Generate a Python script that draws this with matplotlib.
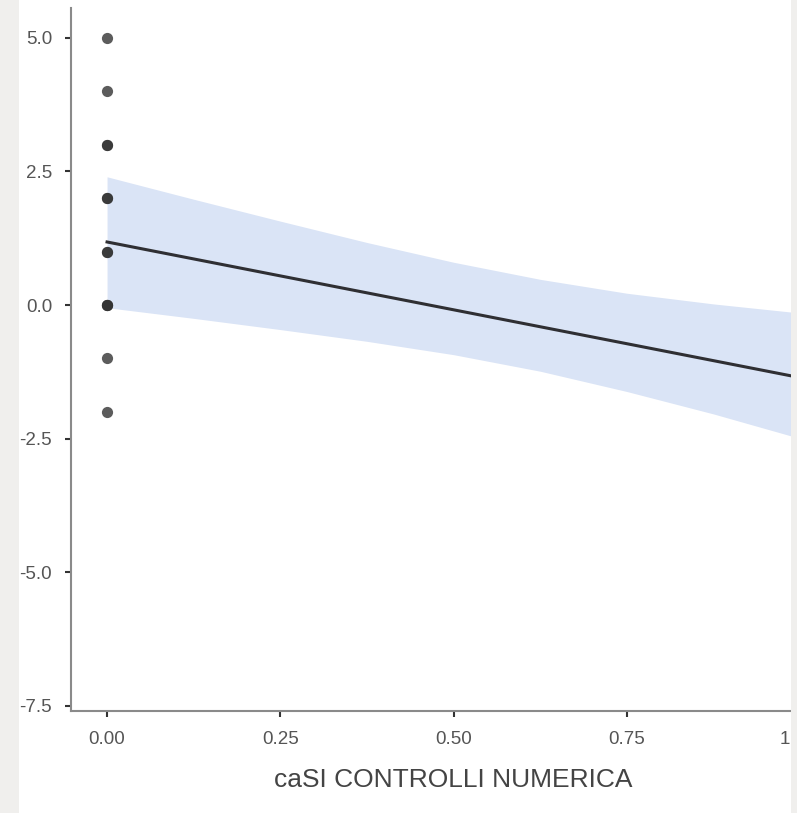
import matplotlib.pyplot as plt
import matplotlib.patches as mpatches
import matplotlib.transforms as mtransforms

plt.rcParams['font.family'] = ['Liberation Sans', 'DejaVu Sans']

# ===== data =====
point_x = [0, 0, 0, 0, 0, 0, 0, 0, 0, 0, 0, 0, 0]
point_y = [5, 4, 3, 3, 2, 2, 1, 1, 0, 0, 0, -1, -2]

fit_x = [0.0, 1.0]
fit_y = [1.18, -1.36]

band_x = [0.0, 0.125, 0.25, 0.375, 0.5, 0.625, 0.75, 0.875, 1.0]
band_upper = [2.40, 1.98, 1.57, 1.17, 0.80, 0.48, 0.22, 0.02, -0.15]
band_lower = [-0.05, -0.25, -0.46, -0.68, -0.93, -1.24, -1.62, -2.04, -2.50]

x_ticks = [0.0, 0.25, 0.5, 0.75, 1.0]
x_ticklabels = ["0.00", "0.25", "0.50", "0.75", "1"]   # only "1" of "1.00" is visible
y_ticks = [-7.5, -5.0, -2.5, 0.0, 2.5, 5.0]
y_ticklabels = ["-7.5", "-5.0", "-2.5", "0.0", "2.5", "5.0"]

# ===== figure =====
W, H = 797, 813
fig = plt.figure(figsize=(W / 100, H / 100), dpi=100)
fig.patch.set_facecolor("white")

ax = fig.add_axes([71 / W, 1 - 711 / H, (835 - 71) / W, (711 - 8) / H])
ax.set_facecolor("white")

ax.fill_between(band_x, band_lower, band_upper, color="#dae4f6", lw=0, zorder=1)
ax.plot(fit_x, fit_y, color="#2f2f33", lw=2.2, zorder=3)
ax.scatter(point_x, point_y, s=65, color="#333333", alpha=0.8, lw=0, zorder=4)

ax.set_xlim(-0.052, 1.05)
ax.set_ylim(-7.6, 5.56)
ax.set_xticks(x_ticks)
ax.set_xticklabels(x_ticklabels)
ax.set_yticks(y_ticks)
ax.set_yticklabels(y_ticklabels)

for side in ["top", "right"]:
    ax.spines[side].set_visible(False)
for side in ["left", "bottom"]:
    ax.spines[side].set_color("#8a8a8a")
    ax.spines[side].set_linewidth(1.5)

ax.tick_params(axis="both", length=4.5, width=1.5, color="#333333",
               labelcolor="#555555", labelsize=13.5)
ax.tick_params(axis="y", pad=9)
ax.tick_params(axis="x", pad=10)
ax.set_xlabel("caSI CONTROLLI NUMERICA", fontsize=19, color="#444444", labelpad=14)

# the last tick sits past the page edge; show its visible part
last = ax.get_xticklabels()[-1]
last.set_transform(last.get_transform() +
                   mtransforms.ScaledTranslation(-16 / 100, 0, fig.dpi_scale_trans))

# grey page strips at both sides
fig.add_artist(mpatches.Rectangle((0, 0), 19 / W, 1, transform=fig.transFigure,
                                  color="#f0efed", lw=0, zorder=10))
fig.add_artist(mpatches.Rectangle((791 / W, 0), 6 / W, 1, transform=fig.transFigure,
                                  color="#f0efed", lw=0, zorder=10))

fig.savefig("out.png", dpi=100)
